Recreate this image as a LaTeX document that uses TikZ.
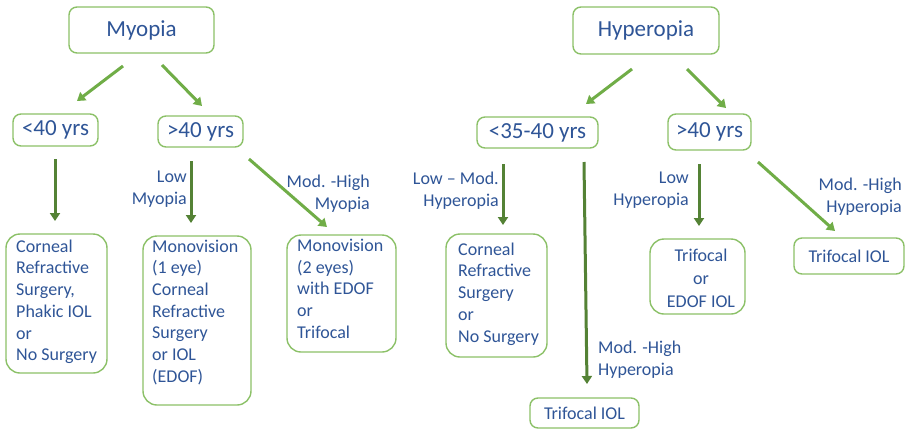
\documentclass[tikz,border=0pt]{standalone}
\usepackage{fontspec}
\setmainfont{Carlito}
\usetikzlibrary{arrows.meta}

\definecolor{txtblue}{HTML}{2F5597}
\definecolor{boxgreen}{HTML}{8CC168}
\definecolor{lightarrow}{HTML}{70AD47}
\definecolor{darkarrow}{HTML}{548235}

\tikzset{
  headbox/.style={draw=boxgreen, line width=1.4pt, rounded corners=8pt,
    text=txtblue, font=\fontsize{23}{27}\selectfont, inner sep=0pt},
  leafbox/.style={draw=boxgreen, line width=1.4pt, rounded corners=14pt, inner sep=0pt},
  smallbox/.style={draw=boxgreen, line width=1.4pt, rounded corners=8pt,
    text=txtblue, font=\fontsize{18}{21.7}\selectfont, inner sep=0pt},
  leaftext/.style={text=txtblue, font=\fontsize{18}{21.7}\selectfont,
    inner sep=0pt, align=left, anchor=north west},
  branchlabel/.style={text=txtblue, font=\fontsize{18}{22.5}\selectfont, inner sep=0pt},
  lightarr/.style={draw=lightarrow, line width=3pt,
    -{Triangle[length=8pt,width=10pt]}},
  darkarr/.style={draw=darkarrow, line width=3pt,
    -{Triangle[length=8pt,width=10pt]}}
}

\begin{document}
\begin{tikzpicture}[x=1pt, y=-1pt]
\useasboundingbox (0,0) rectangle (906,429);
\clip (0,0) rectangle (906,429);
\fill[white] (0,0) rectangle (906,429);

% ---------- Myopia branch ----------
\node[headbox, minimum width=145pt, minimum height=46pt] (my) at (141.5,30) {Myopia};
\node[headbox, minimum width=85pt, minimum height=32pt] (mylow) at (55.5,130) {<40 yrs};
\node[headbox, minimum width=85pt, minimum height=31pt] (myhigh) at (200.5,131.5) {>40 yrs};

\node[leafbox, minimum width=101pt, minimum height=139pt] (myc) at (56.5,303.5) {};
\node[leaftext] (myct) at (16,239.5) {Corneal\\Refractive\\Surgery,\\Phakic IOL\\or\\No Surgery};

\node[leafbox, minimum width=108pt, minimum height=169pt] (mymv1) at (197,320.5) {};
\node[leaftext] (mymv1t) at (152,239.5) {Monovision\\(1 eye)\\Corneal\\Refractive\\Surgery\\or IOL\\(EDOF)};

\node[leafbox, minimum width=109pt, minimum height=117pt] (mymv2) at (341.5,293.5) {};
\node[leaftext] (mymv2t) at (297,239) {Monovision\\(2 eyes)\\with EDOF\\or\\Trifocal};

\node[branchlabel, align=right, anchor=north east] (lblmylow) at (187,170.5) {Low\\Myopia};
\node[branchlabel, align=right, anchor=north east] (lblmyhigh) at (370,174.5) {Mod. -High\\Myopia};

% arrow end points
\coordinate (m1s) at (123,66);  \coordinate (m1e) at (77,101);
\coordinate (m2s) at (162,65);  \coordinate (m2e) at (202,106);
\coordinate (m3s) at (55,159);  \coordinate (m3e) at (55,221);
\coordinate (m4s) at (191,161); \coordinate (m4e) at (191,223);
\coordinate (m5s) at (249,159); \coordinate (m5e) at (327,227);

\draw[lightarr] (m1s) -- (m1e);
\draw[lightarr] (m2s) -- (m2e);
\draw[darkarr] (m3s) -- (m3e);
\draw[darkarr] (m4s) -- (m4e);
\draw[lightarr] (m5s) -- (m5e);

% ---------- Hyperopia branch ----------
\node[headbox, minimum width=146pt, minimum height=47pt] (hy) at (646,30.5) {Hyperopia};
\node[headbox, minimum width=121pt, minimum height=31pt] (hylow) at (537.5,132.5) {<35-40 yrs};
\node[headbox, minimum width=83pt, minimum height=36pt] (hyhigh) at (709.5,132) {>40 yrs};

\node[leafbox, minimum width=101pt, minimum height=123pt] (hyc) at (496.5,295.5) {};
\node[leaftext] (hyct) at (458,242.5) {Corneal\\Refractive\\Surgery\\or\\No Surgery};

\node[leafbox, minimum width=95pt, minimum height=75pt] (hyte) at (697.5,276.5) {};
\node[text=txtblue, font=\fontsize{18}{23}\selectfont, inner sep=0pt, align=center,
  anchor=north] (hytet) at (701,248.5) {Trifocal\\or\\EDOF IOL};

\node[smallbox, minimum width=110pt, minimum height=36pt] (hytr1) at (849,256) {Trifocal IOL};
\node[smallbox, minimum width=109pt, minimum height=30pt] (hytr2) at (584.5,413) {Trifocal IOL};

\node[branchlabel, align=right, anchor=north east] (lblhylow) at (499,171.5) {Low – Mod.\\Hyperopia};
\node[branchlabel, align=left, anchor=north west] (lblhyhigh) at (598,340.5) {Mod. -High\\Hyperopia};
\node[branchlabel, align=right, anchor=north east] (lblhy2low) at (689,171.5) {Low\\Hyperopia};
\node[branchlabel, align=right, anchor=north east] (lblhy2high) at (902,177.5) {Mod. -High\\Hyperopia};

\coordinate (h1s) at (632,69);  \coordinate (h1e) at (586,104);
\coordinate (h2s) at (687,69);  \coordinate (h2e) at (726,108);
\coordinate (h3s) at (503,164); \coordinate (h3e) at (503,225);
\coordinate (h4s) at (584,162); \coordinate (h4e) at (587,384);
\coordinate (h5s) at (699,164); \coordinate (h5e) at (699,226);
\coordinate (h6s) at (758,162); \coordinate (h6e) at (835,231);

\draw[lightarr] (h1s) -- (h1e);
\draw[lightarr] (h2s) -- (h2e);
\draw[darkarr] (h3s) -- (h3e);
\draw[darkarr] (h4s) -- (h4e);
\draw[darkarr] (h5s) -- (h5e);
\draw[lightarr] (h6s) -- (h6e);
\end{tikzpicture}
\end{document}
